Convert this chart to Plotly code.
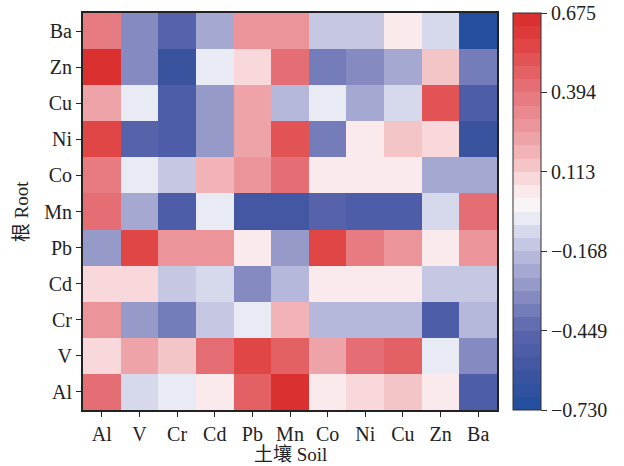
import plotly.graph_objects as go
import numpy as np

soil = ["Al", "V", "Cr", "Cd", "Pb", "Mn", "Co", "Ni", "Cu", "Zn", "Ba"]
root = ["Al", "V", "Cr", "Cd", "Pb", "Mn", "Co", "Ni", "Cu", "Zn", "Ba"]

# rows follow `root` order (bottom to top), columns follow `soil`
r_Al = [0.40, -0.10, -0.03, 0.02, 0.45, 0.66, 0.02, 0.08, 0.13, 0.02, -0.50]
r_V  = [0.08, 0.25, 0.14, 0.40, 0.55, 0.45, 0.25, 0.42, 0.45, -0.03, -0.32]
r_Cr = [0.30, -0.27, -0.40, -0.15, -0.03, 0.18, -0.20, -0.20, -0.20, -0.52, -0.20]
r_Cd = [0.08, 0.08, -0.15, -0.10, -0.32, -0.20, 0.02, 0.02, 0.02, -0.15, -0.15]
r_Pb = [-0.27, 0.55, 0.26, 0.26, 0.02, -0.27, 0.58, 0.36, 0.30, 0.02, 0.30]
r_Mn = [0.40, -0.25, -0.52, -0.03, -0.55, -0.55, -0.47, -0.53, -0.53, -0.10, 0.40]
r_Co = [0.35, -0.03, -0.15, 0.18, 0.27, 0.40, 0.02, 0.02, 0.02, -0.22, -0.25]
r_Ni = [0.58, -0.47, -0.52, -0.27, 0.25, 0.50, -0.40, 0.02, 0.14, 0.08, -0.60]
r_Cu = [0.25, -0.03, -0.52, -0.27, 0.25, -0.20, -0.03, -0.22, -0.10, 0.50, -0.50]
r_Zn = [0.65, -0.32, -0.60, -0.03, 0.08, 0.40, -0.40, -0.33, -0.22, 0.14, -0.37]
r_Ba = [0.38, -0.32, -0.45, -0.25, 0.30, 0.30, -0.15, -0.15, 0.02, -0.10, -0.72]

z = [r_Al, r_V, r_Cr, r_Cd, r_Pb, r_Mn, r_Co, r_Ni, r_Cu, r_Zn, r_Ba]

zmin, zmax = -0.730, 0.675
tickvals = [-0.730, -0.449, -0.168, 0.113, 0.394, 0.675]
ticktext = ["\u22120.730", "\u22120.449", "\u22120.168", "0.113", "0.394", "0.675"]

anchors = [
    (-0.73, "#1F4E9E"), (-0.60, "#3D539F"), (-0.45, "#5A66AD"), (-0.30, "#9095C6"),
    (-0.15, "#C3C5E2"), (-0.05, "#E8EAF4"), (0.0, "#FAF6F6"), (0.05, "#FBE8E9"),
    (0.15, "#F3BFC2"), (0.25, "#EC9CA2"), (0.40, "#E6737A"), (0.55, "#E04848"),
    (0.675, "#DA2A2A"),
]

def hex2rgb(h):
    h = h.lstrip("#")
    return [int(h[i:i + 2], 16) for i in (0, 2, 4)]

av = np.array([a[0] for a in anchors])
ac = np.array([hex2rgb(a[1]) for a in anchors], dtype=float)

def color_at(v):
    rgb = [np.interp(v, av, ac[:, k]) for k in range(3)]
    return "rgb(%d,%d,%d)" % tuple(int(round(c)) for c in rgb)

n = 30
cs = []
for i in range(n):
    mid = zmin + (i + 0.5) / n * (zmax - zmin)
    c = color_at(mid)
    cs.append([i / n, c])
    cs.append([(i + 1) / n, c])

font_fam = "Liberation Serif, Times New Roman, Noto Sans CJK SC, serif"
fs = 20

fig = go.Figure(go.Heatmap(
    z=z, x=soil, y=root, zmin=zmin, zmax=zmax, colorscale=cs,
    xgap=0, ygap=0,
    colorbar=dict(
        x=1.0386, xanchor="left", y=0, yanchor="bottom", len=1, lenmode="fraction",
        thickness=28, outlinecolor="#333", outlinewidth=1,
        tickvals=tickvals, ticktext=ticktext, ticks="outside", ticklen=6,
        tickcolor="#333", tickfont=dict(size=fs, color="#222", family=font_fam),
        ticklabeloverflow="allow",
        xpad=0, ypad=0,
    ),
))

fig.update_layout(
    width=624, height=466,
    margin=dict(l=83, r=127, t=13, b=56, autoexpand=False),
    paper_bgcolor="white", plot_bgcolor="white",
    font=dict(family=font_fam, size=fs, color="#222"),
    xaxis=dict(
        automargin=False,
        ticks="outside", ticklen=5, tickcolor="#222", showline=True, linecolor="#222",
        linewidth=2, mirror=True, tickfont=dict(size=fs),
    ),
    yaxis=dict(
        automargin=False,
        ticks="outside", ticklen=5, tickcolor="#222", showline=True, linecolor="#222",
        linewidth=2, mirror=True, tickfont=dict(size=fs),
    ),
    annotations=[
        dict(text="土壤 Soil", xref="paper", yref="paper", x=0.5, y=-0.113,
             xanchor="center", yanchor="middle", showarrow=False, font=dict(size=19)),
        dict(text="根 Root", xref="paper", yref="paper", x=-0.148, y=0.5,
             xanchor="center", yanchor="middle", showarrow=False, textangle=-90,
             font=dict(size=19)),
    ],
)

fig.write_html("out.html", config={"displayModeBar": False},
               post_script="document.body.style.margin='0';")
